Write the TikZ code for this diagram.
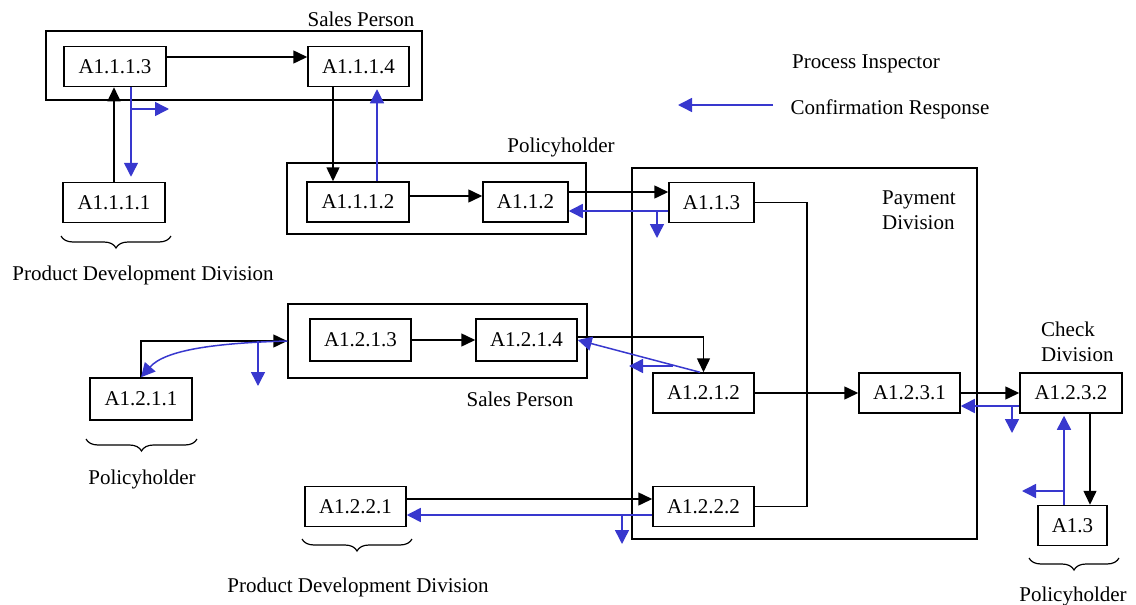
\documentclass[tikz,border=0pt]{standalone}
\usepackage{fontspec}
\setmainfont{Liberation Serif}
\usetikzlibrary{arrows.meta,decorations.pathreplacing,calc}
\definecolor{cblue}{RGB}{56,56,206}
\begin{document}
\begin{tikzpicture}[x=1pt,y=-1pt,
 box/.style={draw,line width=1.5pt,inner sep=0pt,minimum height=40pt,minimum width=101pt,font=\fontsize{21}{25}\selectfont},
 grp/.style={draw,line width=1.5pt,inner sep=0pt},
 lbl/.style={font=\fontsize{21}{25}\selectfont,inner sep=0pt},
 blk/.style={line width=1.5pt,-{Triangle[length=14pt,width=13pt]}},
 bln/.style={line width=1.5pt},
 blu/.style={line width=1.5pt,cblue,-{Triangle[length=14pt,width=14pt]}},
 brc/.style={line width=1.2pt,decorate,decoration={brace,mirror,amplitude=12pt}}
]
\useasboundingbox (0,0) rectangle (1136,605);

% group boxes
\node[grp,minimum width=376pt,minimum height=69pt] (sp1) at (234,65.5) {};
\node[grp,minimum width=299pt,minimum height=71pt] (ph1) at (436.5,198.5) {};
\node[grp,minimum width=345pt,minimum height=371pt] (pay) at (804.5,353.5) {};
\node[grp,minimum width=299pt,minimum height=74pt] (sp2) at (437.5,341) {};

% process boxes
\node[box,minimum width=102pt] (n1113) at (115,66.5) {A1.1.1.3};
\node[box] (n1114) at (358.5,66.5) {A1.1.1.4};
\node[box,minimum width=102pt] (n1111) at (114,202.5) {A1.1.1.1};
\node[box,minimum width=102pt] (n1112) at (358,202) {A1.1.1.2};
\node[box,minimum width=85pt] (n112) at (525.5,202) {A1.1.2};
\node[box,minimum width=85pt] (n113) at (711.5,202.5) {A1.1.3};
\node[box,minimum height=42pt] (n1213) at (360.5,340) {A1.2.1.3};
\node[box,minimum height=42pt] (n1214) at (526.5,340) {A1.2.1.4};
\node[box,minimum width=102pt,minimum height=42pt] (n1211) at (141,399) {A1.2.1.1};
\node[box] (n1212) at (703.5,393) {A1.2.1.2};
\node[box] (n1231) at (909.5,393) {A1.2.3.1};
\node[box,minimum width=102pt] (n1232) at (1071,393) {A1.2.3.2};
\node[box,minimum width=69pt] (n13) at (1072.5,525.5) {A1.3};
\node[box] (n1222) at (703.5,506.5) {A1.2.2.2};
\node[box] (n1221) at (355.5,506.5) {A1.2.2.1};

% labels
\node[lbl] (tsp1) at (361,19) {Sales Person};
\node[lbl] (tph1) at (561,147) {Policyholder};
\node[lbl] (tpi) at (866,64) {Process Inspector};
\node[lbl] (tcr) at (890,109) {Confirmation Response};
\node[lbl,align=left,anchor=west] (tpay) at (882,210.5) {Payment\\Division};
\node[lbl] (tpdd1) at (143,275) {Product Development Division};
\node[lbl] (tph2) at (142,479) {Policyholder};
\node[lbl] (tsp2) at (520,399) {Sales Person};
\node[lbl,align=left,anchor=west] (tcd) at (1041,341.5) {Check\\Division};
\node[lbl] (tpdd2) at (358,587) {Product Development Division};
\node[lbl] (tph3) at (1073,596) {Policyholder};

% connectors
\draw[blk] ([yshift=9.5pt]n1113.east) -- ([yshift=9.5pt]n1114.west);
\draw[blk] (n1111.north) -- (n1111.north |- n1113.south);
\draw[blu,shorten >=5pt] ([xshift=16pt]n1113.south) -- ([xshift=17pt]n1111.north);
\coordinate (b1s) at (131,109); \coordinate (b1e) at (169,109);
\draw[blu] (b1s) -- (b1e);
\draw[blk] ([xshift=-25.5pt]n1114.south) -- ([xshift=-25pt]n1112.north);
\draw[blu,line width=1.2pt,shorten >=2pt] ([xshift=19pt]n1112.north) -- ([xshift=18.5pt]n1114.south);
\draw[blk] ([yshift=6pt]n1112.east) -- ([yshift=6pt]n112.west);
\draw[blk] ([yshift=10pt]n112.east) -- ([yshift=10.5pt]n113.west);
\draw[blu] ([yshift=-8.5pt]n113.west) -- ([yshift=-9pt]n112.east);
\coordinate (b2s) at (657,211); \coordinate (b2e) at (657,238);
\draw[blu] (b2s) -- (b2e);
\coordinate (jx) at (807,300);
\draw[bln] (n113.east) -- (n113.east -| jx) -- (jx |- n1222.east) -- (n1222.east);
\coordinate (lg1) at (773,105); \coordinate (lg2) at (678,105);
\draw[blu] (lg1) -- (lg2);
\draw[blk] (n1211.north) |- (sp2.west);
\draw[blu] (sp2.west) .. controls (215,343) and (165,350) .. (n1211.north);
\coordinate (b3s) at (258,341); \coordinate (b3e) at (258,386);
\draw[blu] (b3s) -- (b3e);
\draw[blk] (n1213) -- (n1214);
\draw[blk] ([yshift=3pt]n1214.east) -| (n1212.north);
\draw[blu] ([xshift=-3.5pt]n1212.north) -- (n1214.east);
\coordinate (b4s) at (673,366); \coordinate (b4e) at (629,366);
\draw[blu] (b4s) -- (b4e);
\draw[blk] (n1212) -- (n1231);
\draw[blk] (n1231) -- (n1232);
\draw[blu] ([yshift=-13pt]n1232.west) -- ([yshift=-13pt]n1231.east);
\coordinate (b5s) at (1012,406); \coordinate (b5e) at (1012,433);
\draw[blu] (b5s) -- (b5e);
\draw[blk] ([xshift=19pt]n1232.south) -- ([xshift=17.5pt]n13.north);
\draw[blu,shorten >=2pt] ([xshift=-8.5pt]n13.north) -- ([xshift=-7pt]n1232.south);
\coordinate (b6s) at (1064,491); \coordinate (b6e) at (1022,491);
\draw[blu] (b6s) -- (b6e);
\draw[blk] ([yshift=7.5pt]n1221.east) -- ([yshift=7.5pt]n1222.west);
\draw[blu] ([yshift=-8.5pt]n1222.west) -- ([yshift=-8.5pt]n1221.east);
\coordinate (b7s) at (622,515); \coordinate (b7e) at (622,544);
\draw[blu] (b7s) -- (b7e);

% braces
\coordinate (br1a) at (61,236); \coordinate (br1b) at (171,236);
\draw[brc] (br1a) -- (br1b);
\coordinate (br2a) at (86,439); \coordinate (br2b) at (197,439);
\draw[brc] (br2a) -- (br2b);
\coordinate (br3a) at (302,539); \coordinate (br3b) at (412,539);
\draw[brc] (br3a) -- (br3b);
\coordinate (br4a) at (1029,558); \coordinate (br4b) at (1119,558);
\draw[brc] (br4a) -- (br4b);
\end{tikzpicture}
\end{document}
